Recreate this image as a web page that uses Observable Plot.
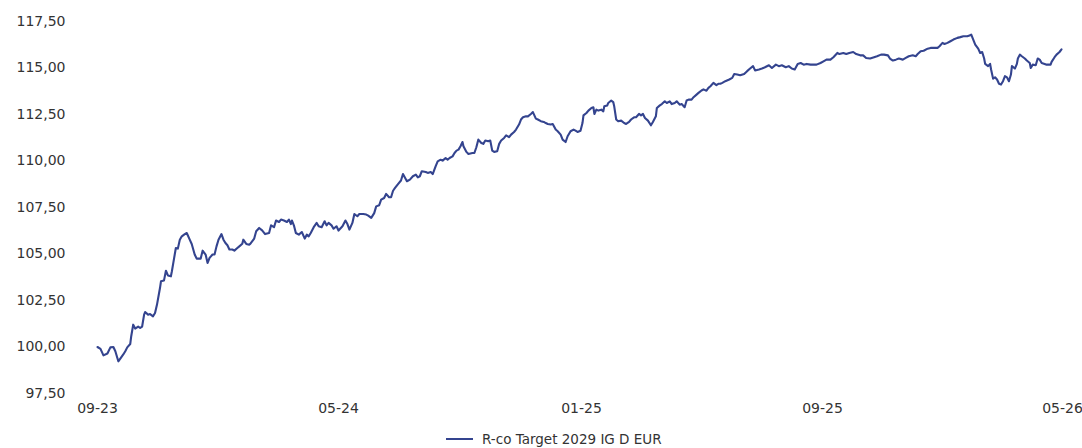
<!DOCTYPE html>
<html>
<head>
<meta charset="utf-8">
<script src="https://cdn.jsdelivr.net/npm/d3@7"></script>
<script src="https://cdn.jsdelivr.net/npm/@observablehq/plot@0.6"></script>
<style>
  html, body { margin: 0; padding: 0; background: #fff; }
  body { width: 1082px; height: 448px; overflow: hidden; font-family: "DejaVu Sans", sans-serif; }
  #legend { position: relative; height: 23px; font-size: 13.5px; color: #333; }
  #legend .item { position: absolute; left: 446px; top: 6px; display: flex; align-items: center; }
  #legend .sw { width: 27px; height: 0; border-top: 2px solid #34448f; margin-right: 9px; }
</style>
</head>
<body>
<div id="chart"></div>
<div id="legend"><div class="item"><span class="sw"></span><span id="legendText"></span></div></div>
<script>
const seriesName = "R-co Target 2029 IG D EUR";
const startDate = "2023-09-01";
// days after startDate
const days = [
0,3,6,10,13,16,18,21,23,26,28,30,33,34,36,38,41,43,45,47,48,51,53,56,58,60,63,64,67,69,71,74,75,77,79,81,83,85,88,90,93,95,98,100,102,104,106,109,111,113,116,118,120,122,125,127,129,131,133,136,138,141,143,146,147,150,153,
154,158,160,163,166,169,173,175,178,180,183,185,188,191,193,195,196,198,200,203,206,209,211,213,215,218,221,223,226,229,231,233,236,238,241,243,247,250,252,254,257,259,262,264,268,271,273,276,279,281,284,286,289,291,294,296,298,300,303,306,
308,312,315,318,321,323,325,327,331,333,336,338,341,343,346,348,351,353,355,358,360,362,364,366,368,369,372,374,378,380,382,384,387,389,391,394,396,398,400,403,405,407,410,412,415,417,420,422,425,427,429,432,434,437,439,442,444,447,450,452,454,457,459,
462,464,467,469,472,474,477,480,482,484,487,489,490,493,495,498,500,501,503,505,508,510,511,514,515,518,520,521,523,525,528,531,533,536,538,541,543,546,548,550,552,555,558,560,563,564,567,569,572,574,577,579,582,584,587,589,592,594,596,599,601,604,606,609,611,614,616,618,621,624,626,628,
630,633,637,640,642,645,648,652,655,658,661,663,667,670,673,677,680,684,687,690,694,697,700,703,706,709,712,715,719,722,725,729,732,735,739,742,746,748,752,755,758,762,765,769,772,775,779,
783,786,790,793,797,799,802,805,808,812,815,818,822,825,827,830,833,837,840,843,847,849,852,854,857,860,863,867,870,873,877,880,881,883,885,888,890,892,894,895,898,900,901,903,905,907,909,911,913,915,917,919,921,922,925,927,928,930,932,935,937,940,941,943,946,948,950,952,955,957,961,962,965,967,970,972
];
const values = [
100.00,99.90,99.55,99.65,99.98,100.00,99.77,99.23,99.38,99.60,99.77,99.98,100.16,100.58,101.20,100.99,101.10,101.02,101.10,101.74,101.88,101.74,101.77,101.65,101.83,102.28,103.17,103.53,103.57,104.10,103.85,103.80,104.07,104.70,105.32,105.29,105.77,105.95,106.07,106.13,105.77,105.54,104.97,104.75,104.75,104.75,105.18,104.97,104.52,104.79,104.97,104.97,105.41,105.77,106.07,105.77,105.59,105.47,105.24,105.24,105.18,105.32,105.41,105.55,105.77,105.54,105.50,
105.54,105.83,106.22,106.40,106.27,106.07,106.13,106.54,106.44,106.80,106.72,106.85,106.80,106.72,106.85,106.61,106.80,106.54,106.13,106.04,106.18,105.83,106.04,105.95,106.13,106.44,106.67,106.49,106.44,106.76,106.54,106.67,106.54,106.36,106.49,106.26,106.49,106.80,106.61,106.31,106.67,107.15,107.03,107.15,107.15,107.12,107.06,106.94,107.20,107.56,107.62,107.92,108.01,108.23,108.05,108.05,108.40,108.55,108.76,108.95,
109.30,108.91,109.00,109.18,109.27,109.12,109.18,109.45,109.41,109.36,109.41,109.30,109.72,109.98,110.07,110.02,110.16,110.07,110.16,110.25,110.43,110.56,110.61,110.79,111.02,110.79,110.49,110.38,110.43,110.43,110.74,111.15,110.97,110.92,111.10,111.06,111.10,110.56,110.49,110.52,110.92,111.10,111.24,111.38,111.28,111.42,111.56,111.69,111.96,112.23,112.35,112.40,112.40,112.53,112.63,112.28,112.23,112.14,112.10,112.04,111.99,111.96,111.99,
111.69,111.60,111.42,111.15,111.02,111.33,111.60,111.69,111.63,111.56,111.63,112.04,112.45,112.58,112.71,112.85,112.89,112.53,112.76,112.71,112.76,112.67,112.94,112.99,113.12,113.25,113.17,112.94,112.23,112.14,112.17,112.04,111.99,112.10,112.23,112.35,112.35,112.53,112.45,112.53,112.31,112.17,111.92,112.10,112.40,112.85,112.99,113.06,113.21,113.12,113.21,113.06,113.12,113.21,113.03,113.06,112.89,113.25,113.30,113.30,113.43,113.57,113.66,113.79,113.85,113.78,113.93,114.02,114.20,114.08,114.15,114.15,
114.20,114.29,114.38,114.47,114.68,114.65,114.61,114.68,114.83,114.97,115.10,114.87,114.92,114.97,115.04,115.15,115.00,115.18,115.10,115.15,115.04,115.10,114.97,114.92,115.22,115.27,115.18,115.22,115.18,115.18,115.18,115.27,115.36,115.45,115.45,115.58,115.81,115.75,115.81,115.75,115.81,115.86,115.75,115.68,115.68,115.54,115.51,
115.58,115.63,115.72,115.72,115.68,115.51,115.40,115.45,115.51,115.45,115.54,115.63,115.68,115.63,115.75,115.90,115.93,116.04,116.08,116.08,116.08,116.17,116.35,116.29,116.35,116.44,116.53,116.62,116.66,116.71,116.71,116.76,116.80,116.53,116.26,116.04,115.81,115.86,115.51,115.22,115.10,115.22,114.92,114.43,114.50,114.38,114.15,114.11,114.29,114.56,114.50,114.29,114.65,115.10,114.97,115.22,115.51,115.72,115.63,115.51,115.40,115.27,115.00,115.18,115.15,115.51,115.45,115.27,115.22,115.18,115.18,115.33,115.58,115.72,115.86,116.00
];
const yTicks = [97.5, 100, 102.5, 105, 107.5, 110, 112.5, 115, 117.5];
const xTickDates = ["2023-09-01", "2024-05-01", "2025-01-01", "2025-09-01", "2026-05-01"];

const start = new Date(startDate + "T00:00:00Z");
const data = days.map((d, i) => ({date: d3.utcDay.offset(start, d), value: values[i]}));
const xTicks = xTickDates.map(s => new Date(s + "T00:00:00Z"));

const locale = d3.formatLocale({decimal: ",", thousands: ".", grouping: [3], currency: ["", " €"]});
const fmtY = locale.format(".2f");
const fmtX = d3.utcFormat("%m-%y");

const chart = Plot.plot({
  width: 1082,
  height: 425,
  marginLeft: 70,
  marginRight: 20,
  marginTop: 21,
  marginBottom: 32,
  insetLeft: 27,
  style: {fontFamily: "DejaVu Sans, sans-serif", fontSize: "14px", color: "#333", background: "#fff"},
  x: {type: "utc", domain: [xTicks[0], xTicks[xTicks.length - 1]]},
  y: {domain: [97.5, 117.5]},
  marks: [
    Plot.axisY({ticks: yTicks, tickFormat: fmtY, tickSize: 0, tickPadding: 5, label: null, fontSize: 14}),
    Plot.axisX({ticks: xTicks, tickFormat: fmtX, tickSize: 0, tickPadding: 10, label: null, fontSize: 14}),
    Plot.line(data, {x: "date", y: "value", stroke: "#34448f", strokeWidth: 2.1, curve: "linear"})
  ]
});
document.getElementById("chart").appendChild(chart);
document.getElementById("legendText").textContent = seriesName;
</script>
</body>
</html>
